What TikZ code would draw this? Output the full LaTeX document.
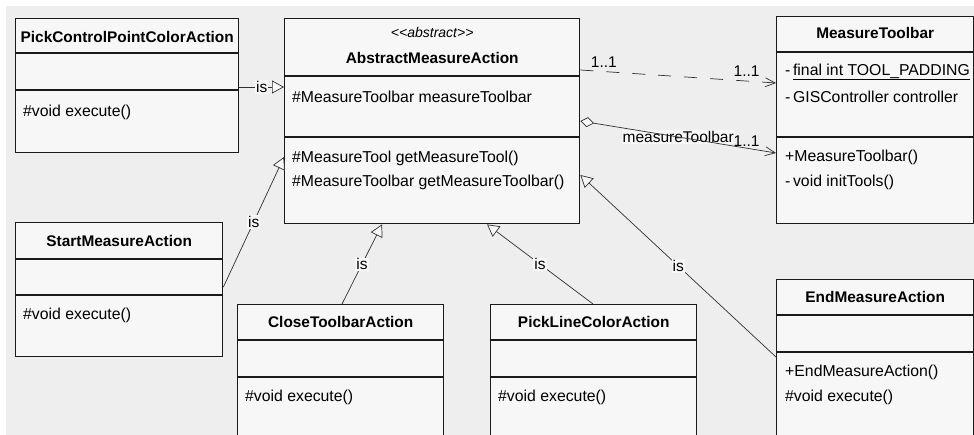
\documentclass[tikz,border=0pt]{standalone}
\usepackage{fontspec}
\setmainfont{Liberation Sans}
\usetikzlibrary{arrows.meta,calc}
\definecolor{canvas}{HTML}{EEEEEE}
\definecolor{boxfill}{HTML}{F7F7F7}
\definecolor{ink}{HTML}{1A1A1A}
\definecolor{wire}{HTML}{303030}
\newcommand\compart[2]{\draw[sepline] ($(#1.north west)+(0,#2)$) -- ($(#1.north east)+(0,#2)$);}

\begin{document}
\begin{tikzpicture}[x=1pt,y=-1pt,
  classbox/.style={draw=ink, line width=1.4pt, fill=boxfill, anchor=north west, inner sep=0pt},
  sepline/.style={draw=ink, line width=1.4pt},
  title/.style={inner sep=0pt, font=\fontsize{15.4}{18}\selectfont\bfseries},
  stereo/.style={inner sep=0pt, font=\fontsize{14}{16}\selectfont\itshape},
  member/.style={anchor=west, inner sep=0pt, font=\fontsize{15.8}{18}\selectfont},
  wirestyle/.style={draw=wire, line width=0.7pt},
  gen/.style={wirestyle, -{Triangle[open,length=12pt,width=13pt,fill=boxfill]}},
  assoc/.style={wirestyle, -{Straight Barb[length=10pt,width=9pt]}},
  agg/.style={wirestyle, {Diamond[open,length=14pt,width=10pt,fill=boxfill]}-{Straight Barb[length=10pt,width=9pt]}},
  islabel/.style={fill=boxfill, inner sep=1pt, font=\fontsize{15.5}{18}\selectfont},
  mult/.style={inner sep=1pt, font=\fontsize{15.5}{18}\selectfont},
]

% canvas
\path[use as bounding box] (0,0) rectangle (974,435);
\clip (0,0) rectangle (974,435);
\fill[canvas] (0,0) rectangle (974,435);
\fill[white] (0,0) rectangle (974,6);
\fill[white] (0,0) rectangle (6,435);

% ---- AbstractMeasureAction
\node[classbox, minimum width=295pt, minimum height=205pt] (ama) at (284,18) {};
\node[stereo] (amaS) at ($(ama.north)+(0,15)$) {<\kern0pt<abstract>\kern0pt>};
\node[title] (amaT) at ($(ama.north)+(0,40)$) {AbstractMeasureAction};
\compart{ama}{58}
\compart{ama}{119}
\node[member] (amaA1) at (292,97) {\#MeasureToolbar measureToolbar};
\node[member] (amaM1) at (292,158) {\#MeasureTool getMeasureTool()};
\node[member] (amaM2) at (292,182) {\#MeasureToolbar getMeasureToolbar()};

% ---- PickControlPointColorAction
\node[classbox, minimum width=223pt, minimum height=134pt] (pcp) at (15,18) {};
\node[title] (pcpT) at ($(pcp.north)+(0,19)$) {PickControlPointColorAction};
\compart{pcp}{35}
\compart{pcp}{72}
\node[member] (pcpM1) at (23,112) {\#void execute()};

% ---- MeasureToolbar
\node[classbox, minimum width=197pt, minimum height=207pt] (mt) at (776,16) {};
\node[title] (mtT) at ($(mt.north)+(0,17)$) {MeasureToolbar};
\compart{mt}{36}
\compart{mt}{121}
\node[member] (mtA1) at (785,72) {-\,\underline{final int TOOL\_PADDING}};
\node[member] (mtA2) at (785,97) {-\,GISController controller};
\node[member] (mtM1) at (785,157) {+MeasureToolbar()};
\node[member] (mtM2) at (785,182) {-\,void initTools()};

% ---- StartMeasureAction
\node[classbox, minimum width=207pt, minimum height=134pt] (sma) at (15,222) {};
\node[title] (smaT) at ($(sma.north)+(0,19)$) {StartMeasureAction};
\compart{sma}{37}
\compart{sma}{73}
\node[member] (smaM1) at (23,315) {\#void execute()};

% ---- CloseToolbarAction
\node[classbox, minimum width=206pt, minimum height=150pt] (cta) at (237,304) {};
\node[title] (ctaT) at ($(cta.north)+(0,18)$) {CloseToolbarAction};
\compart{cta}{36}
\compart{cta}{73}
\node[member] (ctaM1) at (245,397) {\#void execute()};

% ---- PickLineColorAction
\node[classbox, minimum width=206pt, minimum height=150pt] (plc) at (490,304) {};
\node[title] (plcT) at ($(plc.north)+(0,18)$) {PickLineColorAction};
\compart{plc}{36}
\compart{plc}{73}
\node[member] (plcM1) at (498,397) {\#void execute()};

% ---- EndMeasureAction
\node[classbox, minimum width=197pt, minimum height=180pt] (ema) at (776,279) {};
\node[title] (emaT) at ($(ema.north)+(0,18)$) {EndMeasureAction};
\compart{ema}{36}
\compart{ema}{73}
\node[member] (emaM1) at (785,372) {+EndMeasureAction()};
\node[member] (emaM2) at (785,397) {\#void execute()};

% ---- generalisations
\draw[gen] ($(pcp.north east)+(0,69)$) -- node[islabel] (is1) {is} ($(ama.north west)+(0,69)$);
\draw[gen] ($(sma.north east)+(0,65)$) -- node[islabel] (is2) {is} ($(ama.north west)+(0,139)$);
\draw[gen] ($(cta.north west)+(105,0)$) -- node[islabel] (is3) {is} ($(ama.south west)+(98,0)$);
\draw[gen] ($(plc.north west)+(103,0)$) -- node[islabel] (is4) {is} ($(ama.south west)+(203,0)$);
\draw[gen] ($(ema.north west)+(0,78)$) -- node[islabel] (is5) {is} ($(ama.north east)+(0,157)$);

% ---- dependency to MeasureToolbar
\draw[assoc, dash pattern=on 13pt off 13pt] ($(ama.north east)+(0,52)$) --
  node[mult, pos=0.12, anchor=south, yshift=3pt] (m1) {1..1}
  node[mult, pos=0.85, anchor=south, yshift=3pt] (m2) {1..1}
  ($(mt.north west)+(0,67)$);

% ---- aggregation measureToolbar
\path ($(ama.north east)+(0,103)$) --
  node[islabel, pos=0.5] (roleLbl) {measureToolbar}
  node[mult, pos=0.85, anchor=south, yshift=0pt] (m3) {1..1}
  ($(mt.north west)+(0,137)$);
\draw[agg] ($(ama.north east)+(0,103)$) -- ($(mt.north west)+(0,137)$);
\end{tikzpicture}
\end{document}
